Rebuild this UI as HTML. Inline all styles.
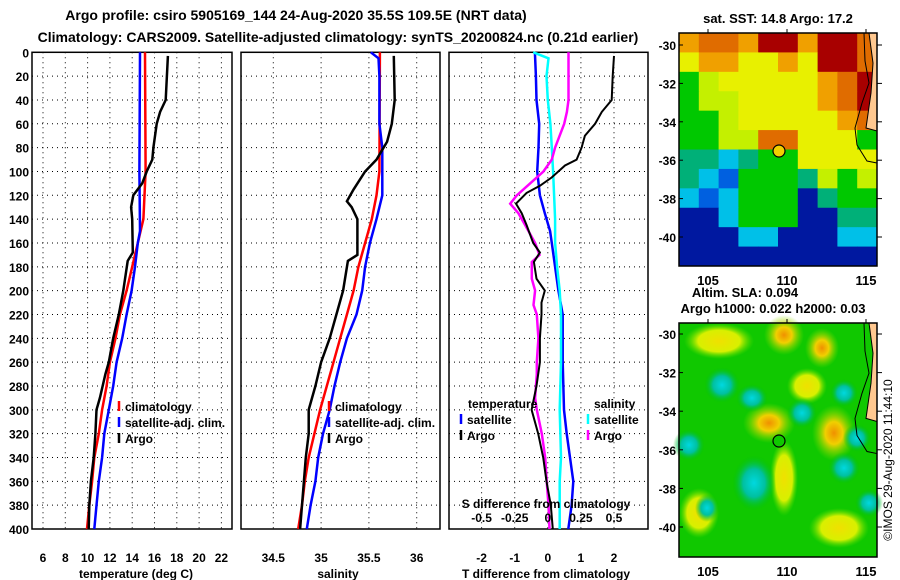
<!DOCTYPE html>
<html><head><meta charset="utf-8"><style>
html,body{margin:0;padding:0;background:#fff;}
svg{display:block;font-family:"Liberation Sans",Arial,sans-serif;font-weight:bold;}
</style></head><body>
<svg id="chart" width="900" height="580" viewBox="0 0 900 580" xmlns="http://www.w3.org/2000/svg">
<text x="296" y="20" font-size="14" text-anchor="middle">Argo profile: csiro 5905169_144 24-Aug-2020 35.5S 109.5E (NRT data)</text>
<text x="338" y="42" font-size="14" text-anchor="middle">Climatology: CARS2009. Satellite-adjusted climatology: synTS_20200824.nc (0.21d earlier)</text>
<g id="plots"></g>
<g id="maps"></g>
<text transform="translate(892,460) rotate(-90)" font-size="12" font-weight="normal" text-anchor="middle">©IMOS 29-Aug-2020 11:44:10</text>
</svg>
<script>
// ---------- data ----------
const depthTicks=[0,20,40,60,80,100,120,140,160,180,200,220,240,260,280,300,320,340,360,380,400];
const tTicks=[6,8,10,12,14,16,18,20,22];
const sTicks=[34.5,35,35.5,36];
const dtTicks=[-2,-1,0,1,2];
const dsTicks=[-0.5,-0.25,0,0.25,0.5];
// temperature profiles
const tClimDepth=[0,100,140,160,180,200,220,240,260,280,300,320,340,360,380,400];
const tClimVal=[15.15,15.2,15.0,14.5,14.0,13.5,12.9,12.5,12.0,11.7,11.3,11.0,10.6,10.4,10.15,9.95];
const tSatDepth=[0,100,150,160,180,200,220,240,260,280,300,320,340,360,380,400];
const tSatVal=[14.7,14.65,14.7,14.5,14.25,13.95,13.5,13.1,12.6,12.3,11.9,11.5,11.3,11.0,10.8,10.6];
const tArgoDepth=[3,40,50,60,80,90,100,110,120,130,140,168,175,200,220,240,260,270,290,300,320,340,360,380,400];
const tArgoVal=[17.2,17.0,16.5,16.2,15.9,15.8,15.3,14.9,14.1,13.9,14.0,14.05,13.6,13.2,12.8,12.3,11.9,11.6,11.1,10.8,10.7,10.55,10.3,10.15,10.1];
// salinity profiles
const sClimDepth=[0,100,120,140,160,180,200,220,240,260,280,300,320,340,360,380,400];
const sClimVal=[35.615,35.61,35.58,35.53,35.46,35.39,35.34,35.27,35.2,35.13,35.06,34.99,34.93,34.87,34.83,34.8,34.76];
const sSatDepth=[0,5,20,60,80,120,140,160,180,200,220,240,260,280,300,320,340,360,380,400];
const sSatVal=[35.52,35.6,35.61,35.61,35.64,35.64,35.58,35.51,35.46,35.43,35.37,35.27,35.2,35.14,35.09,35.02,34.97,34.94,34.89,34.85];
const sArgoDepth=[3,40,60,75,90,100,115,125,130,140,170,175,200,220,240,260,280,300,320,340,360,380,400];
const sArgoVal=[35.76,35.77,35.74,35.69,35.58,35.46,35.34,35.27,35.32,35.38,35.38,35.28,35.23,35.16,35.09,35.0,34.94,34.87,34.87,34.84,34.82,34.8,34.78];
// differences
const dtSatDepth=[0,20,40,60,80,100,120,135,150,160,180,200,220,260,300,320,340,360,380,400];
const dtSatVal=[-0.39,-0.36,-0.34,-0.26,-0.28,-0.32,-0.24,-0.09,0.07,0.12,0.22,0.32,0.45,0.45,0.49,0.57,0.67,0.77,0.72,0.62];
const dsSatDepth=[0,5,20,40,60,80,100,140,160,180,200,220,260,300,340,360,380,400];
const dsSatVal=[-0.11,0.005,-0.01,0.0,0.02,0.03,0.04,0.055,0.055,0.07,0.09,0.1,0.1,0.09,0.1,0.09,0.09,0.09];
const dsArgoDepth=[0,40,50,60,80,90,100,110,120,127,135,145,160,170,176,190,200,212,220,240,260,270,290,300,320,340,360,380,400];
const dsArgoVal=[0.156,0.156,0.144,0.124,0.055,0.03,-0.033,-0.134,-0.234,-0.284,-0.222,-0.171,-0.096,-0.063,-0.121,-0.121,-0.096,-0.108,-0.083,-0.071,-0.083,-0.083,-0.096,-0.083,-0.045,-0.02,-0.008,0.005,0.013];
const dtArgoDepth=[3,20,40,50,60,70,80,90,95,105,112,118,125,127,135,145,160,168,176,190,200,210,220,240,260,280,300,320,340,360,380,400];
const dtArgoVal=[2.0,1.96,1.93,1.63,1.43,1.12,1.02,0.87,0.52,0.12,-0.24,-0.64,-0.89,-0.96,-0.79,-0.64,-0.44,-0.24,-0.42,-0.34,-0.09,-0.19,-0.19,-0.24,-0.24,-0.34,-0.49,-0.29,-0.14,-0.04,0.09,0.15];

const NS='http://www.w3.org/2000/svg';
function mk(parent,tag,attrs){const e=document.createElementNS(NS,tag);for(const k in attrs)e.setAttribute(k,attrs[k]);parent.appendChild(e);return e;}
const Y0=52.3,Y1=529;
const yD=d=>Y0+d*(Y1-Y0)/400;
const plots=document.getElementById('plots');

function panel(name,x0,x1,xf,ticks,tickFmt,showY){
  const g=mk(plots,'g',{});
  
  
  depthTicks.forEach(d=>{
    if(d>0&&d<400){const l=mk(g,'line',{x1:x0,x2:x1,y1:yD(d),y2:yD(d),stroke:'#000','stroke-width':1,'stroke-dasharray':'1,4'});
    }
    if(showY){const t=mk(g,'text',{x:x0-3,y:yD(d)+5,'font-size':12,'text-anchor':'end'});t.textContent=d;
    }
  });
  ticks.forEach(v=>{const x=xf(v);
    const l=mk(g,'line',{x1:x,x2:x,y1:Y0,y2:Y1,stroke:'#000','stroke-width':1,'stroke-dasharray':'1,4'});
    
    const t=mk(g,'text',{x:x,y:562,'font-size':12,'text-anchor':'middle'});t.textContent=tickFmt(v);
    
  });
  const r=mk(g,'rect',{x:x0,y:Y0,width:x1-x0,height:Y1-Y0,fill:'none',stroke:'#000','stroke-width':1.5});
  
  return g;
}
function series(g,name,depths,vals,xf,color,w){
  const pts=depths.map((d,i)=>xf(vals[i]).toFixed(1)+','+yD(d).toFixed(1)).join(' ');
  const p=mk(g,'polyline',{points:pts,fill:'none',stroke:color,'stroke-width':w});
  
}
function label(g,name,x,y,txt,size,anchor){
  const t=mk(g,'text',{x:x,y:y,'font-size':size||12,'text-anchor':anchor||'start'});t.textContent=txt;
  return t;
}
function legend(g,x,y,color,txt){
  const l=mk(g,'line',{x1:x,x2:x,y1:y-10,y2:y,stroke:color,'stroke-width':2.5});
  
  label(g,'legend-entry',x+6,y,txt,12);
}

// Panel 1 temperature
const xT=v=>43+(v-6)*11.15;
const g1=panel('temperature-panel',32,232,xT,tTicks,v=>v,true);
series(g1,'temp-climatology-line',tClimDepth,tClimVal,xT,'#f00',2.5);
series(g1,'temp-satellite-line',tSatDepth,tSatVal,xT,'#00f',2.5);
series(g1,'temp-argo-line',tArgoDepth,tArgoVal,xT,'#000',2.5);
label(g1,'x-axis-title',136,578,'temperature (deg C)',12,'middle');
legend(g1,119,411,'#f00','climatology');legend(g1,119,427,'#00f','satellite-adj. clim.');legend(g1,119,443,'#000','Argo');

// Panel 2 salinity
const xS=v=>273.3+(v-34.5)*95.6;
const g2=panel('salinity-panel',241,440,xS,sTicks,v=>v,false);
series(g2,'sal-climatology-line',sClimDepth,sClimVal,xS,'#f00',2.5);
series(g2,'sal-satellite-line',sSatDepth,sSatVal,xS,'#00f',2.5);
series(g2,'sal-argo-line',sArgoDepth,sArgoVal,xS,'#000',2.5);
label(g2,'x-axis-title',338,578,'salinity',12,'middle');
legend(g2,329,411,'#f00','climatology');legend(g2,329,427,'#00f','satellite-adj. clim.');legend(g2,329,443,'#000','Argo');

// Panel 3 differences
const xDT=v=>547.8+v*33.1;
const xDS=v=>547.8+v*132.4;
const g3=panel('difference-panel',449,648,xDT,dtTicks,v=>v,false);
series(g3,'dT-satellite-line',dtSatDepth,dtSatVal,xDT,'#00f',2.5);
series(g3,'dS-satellite-line',dsSatDepth,dsSatVal,xDS,'#0ff',2.5);
series(g3,'dS-argo-line',dsArgoDepth,dsArgoVal,xDS,'#f0f',2.5);
series(g3,'dT-argo-line',dtArgoDepth,dtArgoVal,xDT,'#000',2);
dsTicks.forEach(v=>label(g3,'s-diff-tick-label',xDS(v),522,v,12,'middle'));
label(g3,'s-diff-axis-title',546,508,'S difference from climatology',12,'middle');
label(g3,'x-axis-title',546,578,'T difference from climatology',12,'middle');
label(g3,'legend-title-temperature',468,408,'temperature',12);
label(g3,'legend-title-salinity',594,408,'salinity',12);
legend(g3,461,424,'#00f','satellite');legend(g3,461,440,'#000','Argo');
legend(g3,588,424,'#0ff','satellite');legend(g3,588,440,'#f0f','Argo');

// ---------- maps ----------
const pal={R:'#a80000',O:'#e06c00',o:'#f0a000',Y:'#e8f000',y:'#c4f000',G:'#00c800',g:'#50dc20',T:'#00b078',C:'#00c0e8',B:'#0060e0',D:'#0018a0'};
const sstGrid=[
'oOOoRRoRRO',
'YooYYoYRRO',
'GyYYYYYoOR',
'GyyYYYYoOR',
'GGyYYYYYoO',
'GGyyOOYYYG',
'TTCTGGYYYY',
'TCBGGGTyGy',
'CBCGGGDTGG',
'DDCGGGDDTT',
'DDDCCDDDCC',
'DDDDDDDDDD'];
const maps=document.getElementById('maps');
const MX0=679,MX1=877;
const lonX=lon=>708+(lon-105)*15.8;
function mapFrame(name,top,bottom,lat30y,latStep){
  const g=mk(maps,'g',{});
  
  return g;
}
function axes(g,top,bottom,latY){
  [-30,-32,-34,-36,-38,-40].forEach(l=>{const y=latY(l);
    label(g,'lat-tick-label',676,y+5,l,12,'end');
    mk(g,'line',{x1:MX1,x2:MX1+5,y1:y,y2:y,stroke:'#000'});
    mk(g,'line',{x1:MX0,x2:MX0+4,y1:y,y2:y,stroke:'#000'});});
  [105,110,115].forEach(l=>{const x=lonX(l);
    label(g,'lon-tick-label',x,bottom+19,l,13,'middle');
    mk(g,'line',{x1:x,x2:x,y1:top-4,y2:top,stroke:'#000'});});
  const r=mk(g,'rect',{x:MX0,y:top,width:MX1-MX0,height:bottom-top,fill:'none',stroke:'#000','stroke-width':1.5});
  
}
function coast(g,top,h){
  const s=h/233;
  const land=mk(g,'path',{d:`M${MX0+185},${top} L${MX1},${top} L${MX1},${top+130*s} L${MX0+188},${top+128*s} L${MX0+178},${top+112*s} L${MX0+176},${top+95*s} L${MX0+183},${top+70*s} L${MX0+190},${top+50*s} L${MX0+186},${top+28*s} Z`,fill:'none',stroke:'#000','stroke-width':1});
  const p=mk(g,'path',{d:`M${MX0+190},${top} L${MX1},${top} L${MX1},${top+98*s} L${MX0+187},${top+95*s} L${MX0+192},${top+60*s} L${MX0+194},${top+30*s} Z`,fill:'#ffc890',stroke:'#000','stroke-width':1});
  
}
// map 1 SST
const g4=mapFrame('sst-map');
label(g4,'sst-map-title',778,23,'sat. SST: 14.8 Argo: 17.2',13,'middle');
const cw=(MX1-MX0)/10,ch=233/12;
sstGrid.forEach((row,r)=>row.split('').forEach((c,k)=>{
  mk(g4,'rect',{x:MX0+k*cw,y:33+r*ch,width:cw+0.5,height:ch+0.5,fill:pal[c]});
}));
coast(g4,33,233);
axes(g4,33,266,l=>45+(-30-l)*19.2);
const m1=mk(g4,'circle',{cx:779,cy:151,r:6,fill:'#f0d000',stroke:'#000','stroke-width':1.2});


// map 2 SLA
const g5=mapFrame('sla-map');
label(g5,'sla-map-title',745,297,'Altim. SLA: 0.094',13,'middle');
label(g5,'sla-map-subtitle',773,313,'Argo h1000: 0.022 h2000: 0.03',13,'middle');
mk(g5,'defs',{}).innerHTML='<radialGradient id="gy"><stop offset="0" stop-color="#f0e000"/><stop offset="0.6" stop-color="#d8f000"/><stop offset="1" stop-color="#60e000" stop-opacity="0"/></radialGradient><radialGradient id="go"><stop offset="0" stop-color="#f09000"/><stop offset="0.4" stop-color="#f0d000"/><stop offset="1" stop-color="#80e000" stop-opacity="0"/></radialGradient><radialGradient id="gc"><stop offset="0" stop-color="#00d8e0"/><stop offset="0.5" stop-color="#00c0a0"/><stop offset="1" stop-color="#00c000" stop-opacity="0"/></radialGradient>';
mk(g5,'rect',{x:MX0,y:323,width:MX1-MX0,height:234,fill:'#10c800'});
const blobs=[['go',105,12,20,20],['go',143,25,17,20],['gy',40,18,35,18],['gy',128,63,20,18],['go',90,100,26,20],['go',155,110,22,28],['gy',105,155,14,38],['gy',20,190,20,25],['gy',160,205,30,20],
['gc',43,62,18,18],['gc',73,75,16,14],['gc',123,90,15,15],['gc',10,122,16,16],['gc',75,160,22,28],['gc',165,145,16,16],['gc',178,115,14,14],['gc',28,185,12,14],['gc',165,70,14,14],['gc',190,180,14,14]];
blobs.forEach(b=>{const e=mk(g5,'ellipse',{cx:MX0+b[1],cy:323+b[2],rx:b[3],ry:b[4],fill:'url(#'+b[0]+')'});});
coast(g5,323,234);
axes(g5,323,557,l=>334+(-30-l)*19.3);
const m2=mk(g5,'circle',{cx:779,cy:441,r:6,fill:'#10c800',stroke:'#000','stroke-width':1.2});

</script>
</body></html>
